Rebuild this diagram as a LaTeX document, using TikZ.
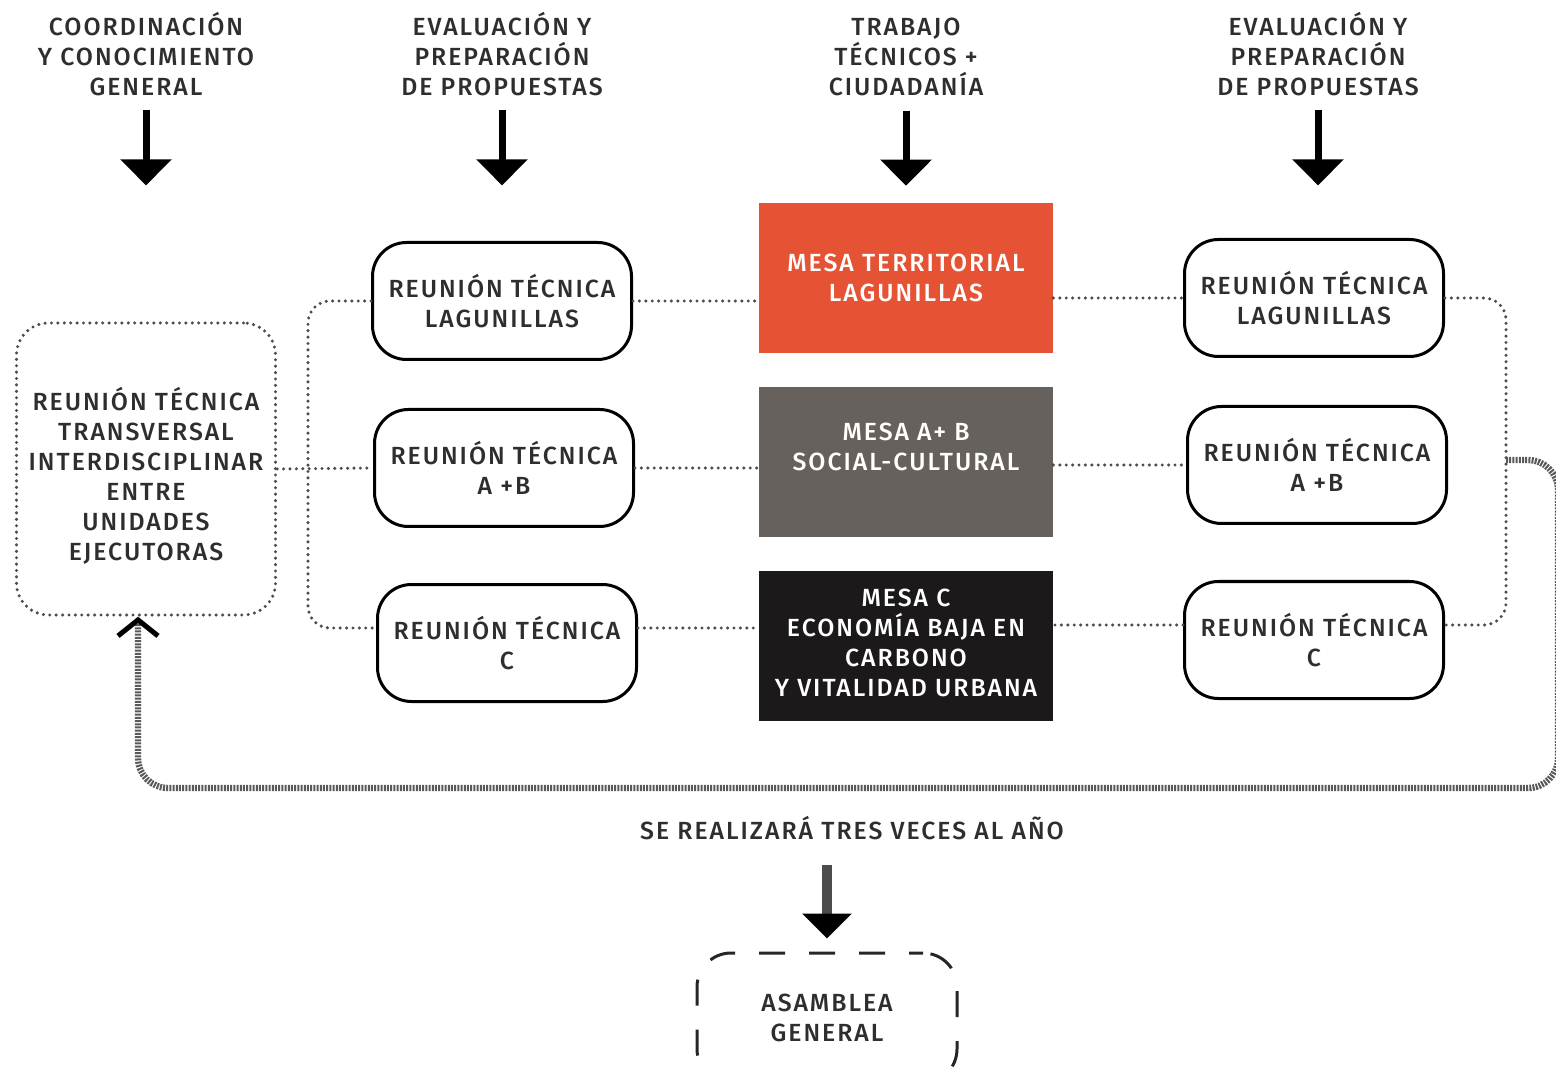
\documentclass[tikz,border=0pt]{standalone}
\usepackage{fontspec}
\setmainfont{Fira Sans}[UprightFont=* Medium, LetterSpace=8]
\usetikzlibrary{arrows.meta,calc,positioning}
\definecolor{mesaorange}{HTML}{E55334}
\definecolor{mesagray}{HTML}{66615C}
\definecolor{mesablack}{HTML}{1B1919}
\definecolor{inkgray}{HTML}{2E2E2E}

\begin{document}
\begin{tikzpicture}[x=0.5pt,y=-0.5pt,
        every node/.style={font=\fontsize{12.4}{15}\selectfont,text=inkgray,align=center},
        toplabel/.style={anchor=north,inner sep=0pt},
        reunion/.style={draw=black,line width=1.5pt,rounded corners=17pt,
          minimum width=129.5pt,minimum height=58.5pt,inner sep=2pt},
        mesa/.style={minimum width=147pt,minimum height=75pt,text=white,inner sep=2pt},
        dotline/.style={gray!60!black,line width=1.7pt,line cap=round,dash pattern=on 0pt off 3.2pt},
        transv/.style={draw=gray!60!black,line width=1.7pt,line cap=round,dash pattern=on 0pt off 3.2pt,
          rounded corners=16pt,minimum width=129.5pt,minimum height=146pt,inner sep=2pt},
        asm/.style={draw=black!85,line width=1.5pt,dash pattern=on 13pt off 12pt,dash phase=6pt,
          rounded corners=17pt,minimum width=130pt,minimum height=65pt},
        bigdown/.style={line width=3.5pt,-{Triangle[width=25pt,length=13pt]}},
        shaftdown/.style={gray!60!black,line width=5pt,-{Triangle[black,width=24pt,length=12.5pt]}},
        returnline/.style={black!65,line width=3.2pt,dash pattern=on 1pt off 0.6pt,rounded corners=15pt,
          -{Straight Barb[black,width=20pt,length=8pt,line width=2.5pt]}}]
        \useasboundingbox (0,0) rectangle (1556,1068);
        % column headings
        \node[toplabel] (lab1) at (146,12) {COORDINACIÓN\\Y CONOCIMIENTO\\GENERAL};
        \node[toplabel] (lab2) at (502,12) {EVALUACIÓN Y\\PREPARACIÓN\\DE PROPUESTAS};
        \node[toplabel] (lab3) at (906,18) {TRABAJO\\TÉCNICOS +\\CIUDADANÍA};
        \node[toplabel] (lab4) at (1318,12) {EVALUACIÓN Y\\PREPARACIÓN\\DE PROPUESTAS};
        \foreach \l in {1,...,4}
          \draw[bigdown] ([yshift=-7pt]lab\l.south) -- ++(0,75);
        % meetings
        \node[transv] (tr) at (146,469) {\rule{0pt}{18pt}REUNIÓN TÉCNICA\\TRANSVERSAL\\INTERDISCIPLINAR\\ENTRE\\UNIDADES\\EJECUTORAS};
        \node[reunion] (ra1) at (502,301) {REUNIÓN TÉCNICA\\LAGUNILLAS};
        \node[reunion] (ra2) at (504,468) {REUNIÓN TÉCNICA\\A +B};
        \node[reunion] (ra3) at (507,643) {REUNIÓN TÉCNICA\\C};
        \node[mesa,fill=mesaorange] (m1) at (906,278) {MESA TERRITORIAL\\LAGUNILLAS};
        \node[mesa,fill=mesagray] (m2) at (906,462) {MESA A+ B\\SOCIAL-CULTURAL\rule[-15pt]{0pt}{1pt}};
        \node[mesa,fill=mesablack] (m3) at (906,646) {MESA C\\ECONOMÍA BAJA EN\\CARBONO\\Y VITALIDAD URBANA\rule[-3pt]{0pt}{1pt}};
        \node[reunion] (rb1) at (1314,298) {REUNIÓN TÉCNICA\\LAGUNILLAS};
        \node[reunion] (rb2) at (1317,465) {REUNIÓN TÉCNICA\\A +B};
        \node[reunion] (rb3) at (1314,640) {REUNIÓN TÉCNICA\\C};
        \coordinate (lbr) at (308,469);
        \coordinate (rbr) at (1506,460);
        % dotted links
        \draw[dotline] (ra1.east) -- (ra1.east -| m1.west);
        \draw[dotline] (ra2.east) -- (ra2.east -| m2.west);
        \draw[dotline] ([yshift=7.5pt]ra3.east) -- ++(121,0);
        \draw[dotline] (m1.east |- rb1.west) -- (rb1.west);
        \draw[dotline] (m2.east |- rb2.west) -- (rb2.west);
        \draw[dotline] ([yshift=7.5pt]rb3.west) -- ++(-132,0);
        \draw[dotline] (tr.east) -- (ra2.west);
        \draw[dotline,rounded corners=11pt] (ra1.west) -| (lbr) |- ([yshift=7.5pt]ra3.west);
        \draw[dotline,rounded corners=11pt] (rb1.east) -| (rbr) |- ([yshift=7.5pt]rb3.east);
        % return to the transversal meeting
        \draw[returnline] (rbr) -- (1558,460) -- (1558,788) -- (138,788) -- ([xshift=-4pt]tr.south);
        % general assembly
        \node (note) at (852,828) {SE REALIZARÁ TRES VECES AL AÑO};
        \node[asm] (asm) at (827,1018) {ASAMBLEA\\GENERAL};
        \draw[shaftdown] ($(note.south -| asm.north)+(0,18)$) -- ([yshift=6.5pt]asm.north);
\end{tikzpicture}
\end{document}
